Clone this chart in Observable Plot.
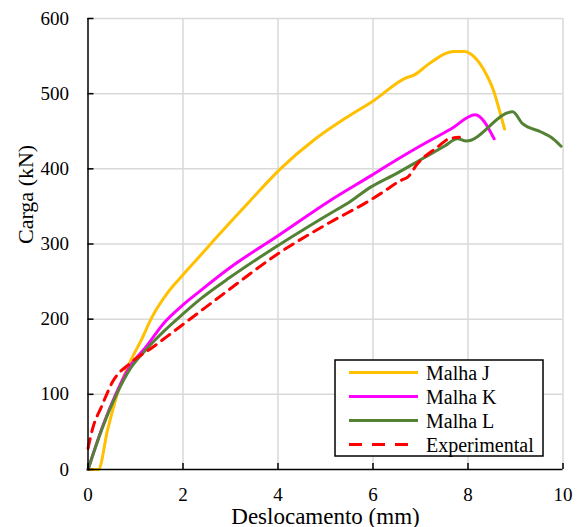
<!DOCTYPE html>
<html>
<head>
<meta charset="utf-8">
<script src="https://cdn.jsdelivr.net/npm/d3@7"></script>
<script src="https://cdn.jsdelivr.net/npm/@observablehq/plot@0.6"></script>
<style>
  html, body { margin: 0; padding: 0; background: #fff; }
  #chart { width: 585px; height: 527px; }
</style>
</head>
<body>
<div id="chart"></div>
<script>
// ---- data ----
const seriesNames = ["Malha J", "Malha K", "Malha L", "Experimental"];
const seriesColors = ["#FFC000", "#FF00FF", "#548235", "#FF0000"];

const malhaJ = [[0,0],[0.22,0],[0.41,52],[0.62,101],[0.87,141],[1.12,172],[1.35,203],[1.71,238],[2.0,259],[2.37,285],[2.65,305],[3.42,358],[4.05,400],[4.75,438],[5.46,469],[6.02,491],[6.66,520],[6.9,526],[7.12,537],[7.71,556],[7.92,556],[8.13,549],[8.34,531],[8.55,502],[8.66,478],[8.77,453]];
const malhaK = [[0,0],[0.3,56],[0.59,101],[0.87,136],[1.22,163],[1.6,195],[2.0,219],[2.37,238],[3.0,269],[4.0,311],[5.1,358],[5.96,391],[6.5,412],[7.01,431],[7.64,453],[8.15,472],[8.55,440]];
const malhaL = [[0,0],[0.3,55],[0.6,100],[0.9,135],[1.2,158],[1.5,178],[2.0,207],[2.37,227],[3.0,256],[4.0,298],[5.0,337],[5.53,357],[5.96,376],[6.5,394],[7.0,412],[7.5,430],[7.78,440],[7.96,437],[8.94,476],[9.15,460],[9.54,449],[9.75,442],[9.96,430]];
const experimental = [[0,28],[0.1,55],[0.28,83],[0.53,118],[0.88,141],[1.37,163],[1.79,183],[2.44,214],[2.86,234],[4.0,287],[5.1,329],[5.88,356],[6.16,367],[6.6,385],[6.73,389],[6.94,407],[7.36,429],[7.6,440],[7.82,442]];

const xTicks = [0, 2, 4, 6, 8, 10];
const yTicks = [0, 100, 200, 300, 400, 500, 600];
const xLabel = "Deslocamento (mm)";
const yLabel = "Carga (kN)";

const allSeries = [malhaJ, malhaK, malhaL, experimental];
const rows = allSeries.flatMap((s, i) => s.map(([x, y]) => ({x, y, name: seriesNames[i]})));

const font = "'Liberation Serif', 'Times New Roman', serif";
const gridColor = "#d9d9d9";

const chart = Plot.plot({
  width: 585,
  height: 527,
  marginLeft: 87.5,
  marginRight: 22.5,
  marginTop: 18,
  marginBottom: 58,
  style: {fontFamily: font, fontSize: "19px", background: "#fff", color: "#000", overflow: "visible"},
  x: {domain: [0, 10]},
  y: {domain: [0, 600]},
  marks: [
    Plot.gridX({ticks: xTicks.filter(d => d > 0), stroke: gridColor, strokeOpacity: 1, strokeWidth: 1.5}),
    Plot.gridY({ticks: yTicks.filter(d => d > 0), stroke: gridColor, strokeOpacity: 1, strokeWidth: 1.5}),
    Plot.axisX({ticks: xTicks, tickSize: 0, tickPadding: 18, label: null, fontSize: 19}),
    Plot.axisY({ticks: yTicks, tickSize: 0, tickPadding: 19, label: null, fontSize: 19}),
    ...seriesNames.map((n, i) => Plot.line(rows.filter(d => d.name === n), {
      x: "x", y: "y",
      stroke: seriesColors[i],
      strokeWidth: 3,
      curve: "monotone-x",
      strokeDasharray: n === "Experimental" ? "10,7" : null,
      strokeLinejoin: "round"
    })),
    Plot.ruleX([0], {stroke: "#000", strokeWidth: 1.5}),
    Plot.ruleY([0], {stroke: "#000", strokeWidth: 1.5}),
    Plot.tickX(xTicks, {x: d => d, stroke: "#000", strokeWidth: 1.5, insetTop: 445}),
    Plot.tickY(yTicks, {y: d => d, stroke: "#000", strokeWidth: 1.5, insetRight: 469}),
    Plot.text([xLabel], {frameAnchor: "bottom", lineAnchor: "bottom", dy: 54, fontSize: 23, fontFamily: font}),
    Plot.text([yLabel], {frameAnchor: "left", rotate: -90, dx: -62, fontSize: 22, fontFamily: font})
  ]
});

// ---- legend inside the plot area ----
const svg = d3.select(chart);
const lg = svg.append("g").attr("transform", "translate(335,360)");
lg.append("rect").attr("width", 208).attr("height", 96)
  .attr("fill", "#fff").attr("stroke", "#000").attr("stroke-width", 1.5);
seriesNames.forEach((n, i) => {
  const yy = 12.5 + i * 24;
  lg.append("line").attr("x1", 14).attr("x2", 83).attr("y1", yy).attr("y2", yy)
    .attr("stroke", seriesColors[i]).attr("stroke-width", 3)
    .attr("stroke-dasharray", n === "Experimental" ? "13,10" : null);
  lg.append("text").attr("x", 91).attr("y", yy).attr("dy", "0.35em")
    .attr("text-anchor", "start")
    .attr("font-family", font).attr("font-size", 20).attr("fill", "#000").text(n);
});

document.getElementById("chart").append(chart);
</script>
</body>
</html>
